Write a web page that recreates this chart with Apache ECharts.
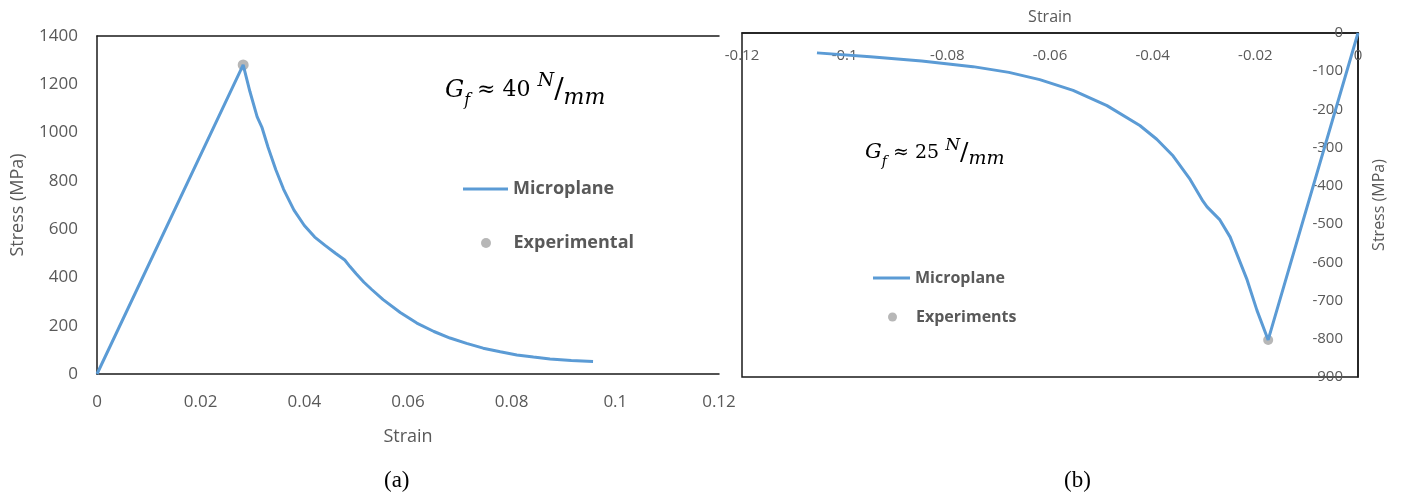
<!DOCTYPE html>
<html>
<head>
<meta charset="utf-8">
<script src="https://cdn.jsdelivr.net/npm/echarts@6/dist/echarts.min.js"></script>
<style>
  html, body { margin: 0; padding: 0; background: #fff; }
  #chart { width: 1408px; height: 503px; }
</style>
</head>
<body>
<div id="chart"></div>
<script>
// (a) tension: strain / stress
var tensionStrain = [0, 0.0282, 0.0295, 0.0309, 0.0318, 0.0330, 0.0345, 0.0360, 0.0380, 0.0400, 0.0420, 0.0440, 0.0460, 0.0478, 0.0488, 0.0500, 0.0515, 0.0530, 0.0552, 0.0585, 0.0617, 0.0650, 0.0681, 0.0713, 0.0745, 0.0778, 0.0810, 0.0842, 0.0874, 0.0915, 0.0957];
var tensionStress = [0, 1280, 1170, 1065, 1023, 939, 846, 765, 679, 615, 567, 533, 500, 472, 445, 415, 380, 350, 308, 255, 211, 176, 149, 127, 107, 92, 79, 70, 62, 56, 52];
var tensionExp = [0.0282, 1280];

// (b) compression
var compStrain = [-0.1054, -0.0950, -0.0850, -0.0750, -0.0680, -0.0620, -0.0555, -0.0489, -0.0425, -0.0392, -0.0360, -0.0327, -0.0302, -0.0294, -0.0269, -0.0249, -0.0216, -0.0197, -0.0175, 0];
var compStress = [-52, -62, -73, -88, -103, -122, -150, -190, -242, -278, -322, -383, -440, -455, -489, -534, -646, -725, -803, 0];
var compExp = [-0.0175, -803];

var leftXTicks = [0, 0.12, 0.02];   // min, max, step
var leftYTicks = [0, 1400, 200];
var rightXTicks = [-0.12, 0, 0.02];
var rightYTicks = [-900, 0, 100];

function pairs(xs, ys) {
    var out = [];
    for (var i = 0; i < xs.length; i++) out.push([xs[i], ys[i]]);
    return out;
}

var FONT = 'Open Sans';
var GREY = '#595959';
var BLUE = '#5B9BD5';
var DOT = '#A5A5A5';
var AXIS = '#1a1a1a';

function rich(scale) {
    var s = function (v) { return Math.round(v * scale); };
    return {
        g: { fontFamily: 'DejaVu Serif', fontStyle: 'italic', fontSize: s(22), lineHeight: s(34), verticalAlign: 'middle', color: '#000' },
        f: { fontFamily: 'DejaVu Serif', fontStyle: 'italic', fontSize: s(15), lineHeight: s(16), verticalAlign: 'bottom', color: '#000' },
        t: { fontFamily: 'DejaVu Serif', fontSize: s(20), lineHeight: s(34), verticalAlign: 'middle', color: '#000' },
        n: { fontFamily: 'DejaVu Serif', fontStyle: 'italic', fontSize: s(18), lineHeight: s(18), verticalAlign: 'top', color: '#000' },
        s: { fontFamily: 'DejaVu Serif', fontSize: s(26), lineHeight: s(34), verticalAlign: 'middle', color: '#000' },
        m: { fontFamily: 'DejaVu Serif', fontStyle: 'italic', fontSize: s(20), lineHeight: s(20), verticalAlign: 'bottom', color: '#000' }
    };
}

var plain = function (v) { return String(+v.toFixed(4)); };

var chart = echarts.init(document.getElementById('chart'));
var option = {
    backgroundColor: '#fff',
    animation: false,
    grid: [
        { left: 97, top: 36, width: 622, height: 338 },
        { left: 742, top: 33, width: 616, height: 344, show: true, borderColor: AXIS, borderWidth: 1.5 }
    ],
    xAxis: [
        {
            gridIndex: 0, type: 'value', position: 'bottom',
            min: leftXTicks[0], max: leftXTicks[1], interval: leftXTicks[2],
            name: 'Strain', nameLocation: 'middle', nameGap: 54,
            nameTextStyle: { fontFamily: FONT, fontSize: 18, color: GREY },
            axisLine: { show: true, lineStyle: { color: AXIS, width: 1.5 } },
            axisTick: { show: false },
            axisLabel: { fontFamily: FONT, fontSize: 17, color: GREY, margin: 20, formatter: plain },
            splitLine: { show: false }
        },
        {
            gridIndex: 0, type: 'value', position: 'top',
            min: leftXTicks[0], max: leftXTicks[1],
            axisLine: { show: true, onZero: false, lineStyle: { color: AXIS, width: 1.5 } },
            axisTick: { show: false }, axisLabel: { show: false }, splitLine: { show: false }
        },
        {
            gridIndex: 1, type: 'value', position: 'top',
            min: rightXTicks[0], max: rightXTicks[1], interval: rightXTicks[2],
            name: 'Strain', nameLocation: 'middle', nameGap: 8,
            nameTextStyle: { fontFamily: FONT, fontSize: 16, color: GREY },
            axisLine: { show: true, onZero: false, lineStyle: { color: AXIS, width: 1.5 } },
            axisTick: { show: false },
            axisLabel: { inside: true, fontFamily: FONT, fontSize: 15, color: GREY, margin: 15, formatter: plain },
            splitLine: { show: false }
        }
    ],
    yAxis: [
        {
            gridIndex: 0, type: 'value',
            min: leftYTicks[0], max: leftYTicks[1], interval: leftYTicks[2],
            name: 'Stress (MPa)', nameLocation: 'middle', nameGap: 70, nameRotate: 90,
            nameTextStyle: { fontFamily: FONT, fontSize: 18, color: GREY },
            axisLine: { show: true, lineStyle: { color: AXIS, width: 1.5 } },
            axisTick: { show: false },
            axisLabel: { fontFamily: FONT, fontSize: 17, color: GREY, margin: 19, formatter: plain },
            splitLine: { show: false }
        },
        {
            gridIndex: 1, type: 'value', position: 'right',
            min: rightYTicks[0], max: rightYTicks[1], interval: rightYTicks[2],
            name: 'Stress (MPa)', nameLocation: 'middle', nameGap: 13, nameRotate: 90,
            nameTextStyle: { fontFamily: FONT, fontSize: 16, color: GREY },
            axisLine: { show: true, onZero: false, lineStyle: { color: AXIS, width: 1.5 } },
            axisTick: { show: false },
            axisLabel: { inside: true, fontFamily: FONT, fontSize: 15, color: GREY, margin: 15, formatter: plain },
            splitLine: { show: false }
        }
    ],
    legend: [
        { left: 463, top: 179, padding: 0, itemWidth: 45, itemHeight: 3, data: [{ name: 'Microplane', icon: 'rect' }],
          textStyle: { fontFamily: FONT, fontWeight: 'bold', fontSize: 18, lineHeight: 20, color: GREY } },
        { left: 481, top: 233, padding: 0, itemWidth: 45, itemHeight: 10, data: ['Experimental'],
          textStyle: { fontFamily: FONT, fontWeight: 'bold', fontSize: 18, lineHeight: 20, color: GREY } },
        { left: 873, top: 269, padding: 0, itemWidth: 37, itemHeight: 3, data: [{ name: 'Microplane', icon: 'rect' }],
          textStyle: { fontFamily: FONT, fontWeight: 'bold', fontSize: 16, lineHeight: 18, color: GREY } },
        { left: 888, top: 308, padding: 0, itemWidth: 37, itemHeight: 9, data: ['Experiments'],
          textStyle: { fontFamily: FONT, fontWeight: 'bold', fontSize: 16, lineHeight: 18, color: GREY } }
    ],
    graphic: [
        { type: 'text', left: 445, top: 72, style: { text: '{g|G}{f|f}{t| ≈ 40 }{n|N}{s|/}{m|mm}', rich: rich(1.08) } },
        { type: 'text', left: 865, top: 137, style: { text: '{g|G}{f|f}{t| ≈ 25 }{n|N}{s|/}{m|mm}', rich: rich(0.95) } },
        { type: 'text', left: 384, top: 469, style: { text: '(a)', fontFamily: 'Liberation Serif', fontSize: 23, fill: '#000' } },
        { type: 'text', left: 1064, top: 469, style: { text: '(b)', fontFamily: 'Liberation Serif', fontSize: 23, fill: '#000' } }
    ],
    series: [
        {
            name: 'Microplane', type: 'line', xAxisIndex: 0, yAxisIndex: 0,
            symbol: 'none', lineStyle: { color: BLUE, width: 3 }, itemStyle: { color: BLUE },
            data: pairs(tensionStrain, tensionStress)
        },
        {
            name: 'Experimental', type: 'scatter', xAxisIndex: 0, yAxisIndex: 0,
            symbolSize: 11, itemStyle: { color: DOT },
            data: [tensionExp]
        },
        {
            name: 'Microplane', type: 'line', xAxisIndex: 2, yAxisIndex: 1,
            symbol: 'none', lineStyle: { color: BLUE, width: 3 }, itemStyle: { color: BLUE },
            data: pairs(compStrain, compStress)
        },
        {
            name: 'Experiments', type: 'scatter', xAxisIndex: 2, yAxisIndex: 1,
            symbolSize: 10, itemStyle: { color: DOT },
            data: [compExp]
        }
    ]
};
chart.setOption(option);
</script>
</body>
</html>
